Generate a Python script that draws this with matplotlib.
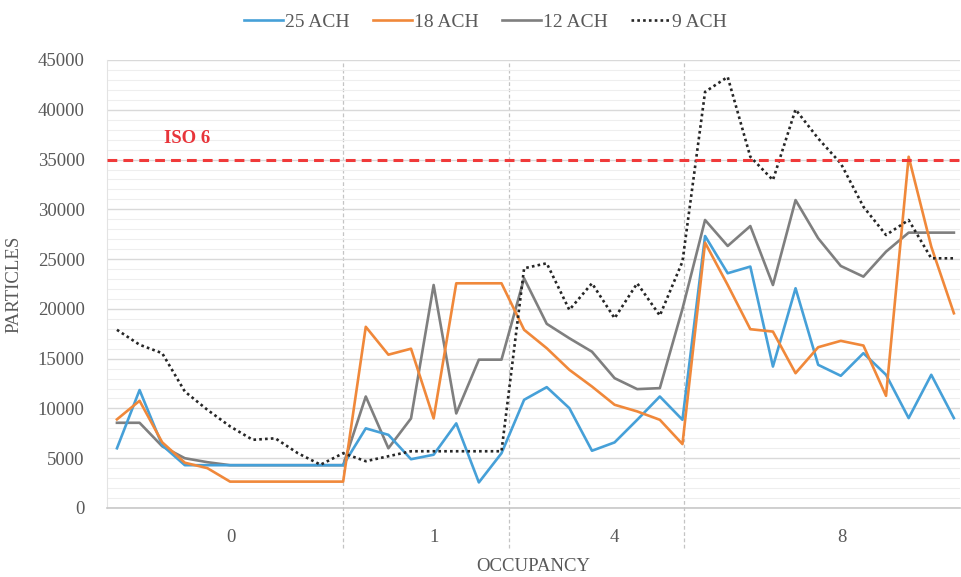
import numpy as np
import matplotlib
matplotlib.use("Agg")
import matplotlib.pyplot as plt
from matplotlib.ticker import MultipleLocator
import matplotlib.transforms as mtransforms

# readings per sample, 38 samples split over the occupancy groups
ach_25 = [6000, 11850, 6300, 4300, 4300, 4300, 4300, 4300, 4300, 4300, 4300,
          8000, 7350, 4900, 5350, 8500, 2570, 5500,
          10870, 12140, 10030, 5750, 6590, 8860, 11200, 8860,
          27320, 23580, 24250, 14210, 22070, 14380, 13280, 15550, 13380, 9030, 13380, 9030]
ach_18 = [8900, 10770, 6600, 4550, 4000, 2650, 2650, 2650, 2650, 2650, 2650,
          18200, 15400, 16000, 9000, 22570, 22570, 22570,
          17900, 16050, 13880, 12200, 10370, 9700, 8860, 6420,
          26650, 22400, 17960, 17720, 13540, 16150, 16790, 16320, 11270, 35280, 26250, 19560]
ach_12 = [8560, 8560, 6200, 5000, 4600, 4300, 4300, 4300, 4300, 4300, 4300,
          11200, 6000, 9000, 22400, 9500, 14900, 14900,
          23070, 18500, 17050, 15700, 13040, 11940, 12040, 20000,
          28930, 26320, 28320, 22400, 30930, 27090, 24310, 23240, 25750, 27660, 27660, 27660]
ach_9 = [17900, 16400, 15550, 11700, 9860, 8200, 6850, 7000, 5500, 4350, 5500,
         4700, 5200, 5700, 5700, 5700, 5700, 5700,
         24080, 24580, 19900, 22570, 19060, 22570, 19330, 24750,
         41800, 43300, 35280, 32940, 40030, 37120, 34610, 30260, 27420, 28930, 25080, 25080]

series_names = ["25 ACH", "18 ACH", "12 ACH", "9 ACH"]
group_labels = ["0", "1", "4", "8"]
iso6_limit = 35000

# where the group labels and the dashed separators sit (in sample index units)
group_label_pos = [5.05, 14.0, 22.0, 32.05]
separator_pos = [10.0, 17.33, 25.07]

plt.rcParams["font.family"] = ["Liberation Serif", "DejaVu Serif"]
text_col = "#595959"

fig = plt.figure(figsize=(9.61, 5.77), dpi=100)
ax = fig.add_axes([107 / 961, 1 - 508 / 577, 853 / 961, 448 / 577])

x = np.arange(len(ach_25))

ax.plot(x, ach_25, color="#46a0d8", lw=1.9, label=series_names[0], zorder=4)
ax.plot(x, ach_18, color="#f0883a", lw=1.9, label=series_names[1], zorder=4)
ax.plot(x, ach_12, color="#7f7f7f", lw=1.9, label=series_names[2], zorder=3)
ax.plot(x, ach_9, color="#262626", lw=1.9, ls=(0, (1, 1.2)), label=series_names[3], zorder=5)

# ISO 6 limit
ax.axhline(iso6_limit, color="#f03a3a", lw=2.2, ls=(0, (3.2, 2.0)), zorder=6)
ax.text(2.1, iso6_limit + 2100, "ISO 6", color="#e8343a", fontsize=13.5,
        fontweight="bold", va="center", ha="left")

ax.set_xlim(-0.44, 37.27)
ax.set_ylim(0, 45000)

ax.yaxis.set_major_locator(MultipleLocator(5000))
ax.yaxis.set_minor_locator(MultipleLocator(1000))
ax.grid(which="major", axis="y", color="#d9d9d9", lw=1.0, zorder=0)
ax.grid(which="minor", axis="y", color="#eeeeee", lw=0.8, zorder=0)
ax.tick_params(axis="y", which="both", length=0, labelsize=13.5,
               labelcolor=text_col, pad=16)

ax.set_xticks(group_label_pos)
ax.set_xticklabels(group_labels)
ax.tick_params(axis="x", length=0, labelsize=13.5, labelcolor=text_col, pad=15)

for side in ["top", "right"]:
    ax.spines[side].set_visible(False)
ax.spines["left"].set_color("#e3e3e3")
ax.spines["bottom"].set_color("#c8c8c8")
ax.spines["bottom"].set_linewidth(1.2)

# group separators, running down through the label area
trans = mtransforms.blended_transform_factory(ax.transData, ax.transAxes)
for sp in separator_pos:
    ax.plot([sp, sp], [-0.09, 1.0], transform=trans, color="#c4c4c4",
            lw=0.9, ls=(0, (3, 2)), clip_on=False, zorder=1)

ax.set_ylabel("PARTICLES", fontsize=13.5, color=text_col)
ax.yaxis.set_label_coords(-0.0997, 0.5)
ax.set_xlabel("OCCUPANCY", fontsize=13.5, color=text_col)
ax.xaxis.set_label_coords(0.5, -0.112)

leg = fig.legend(loc="center", bbox_to_anchor=(0.505, 1 - 22 / 577), ncol=4,
                 frameon=False, fontsize=14, handlelength=2.0, handletextpad=0.1,
                 columnspacing=1.2)
for t in leg.get_texts():
    t.set_color(text_col)

fig.savefig("out.png", dpi=100)
